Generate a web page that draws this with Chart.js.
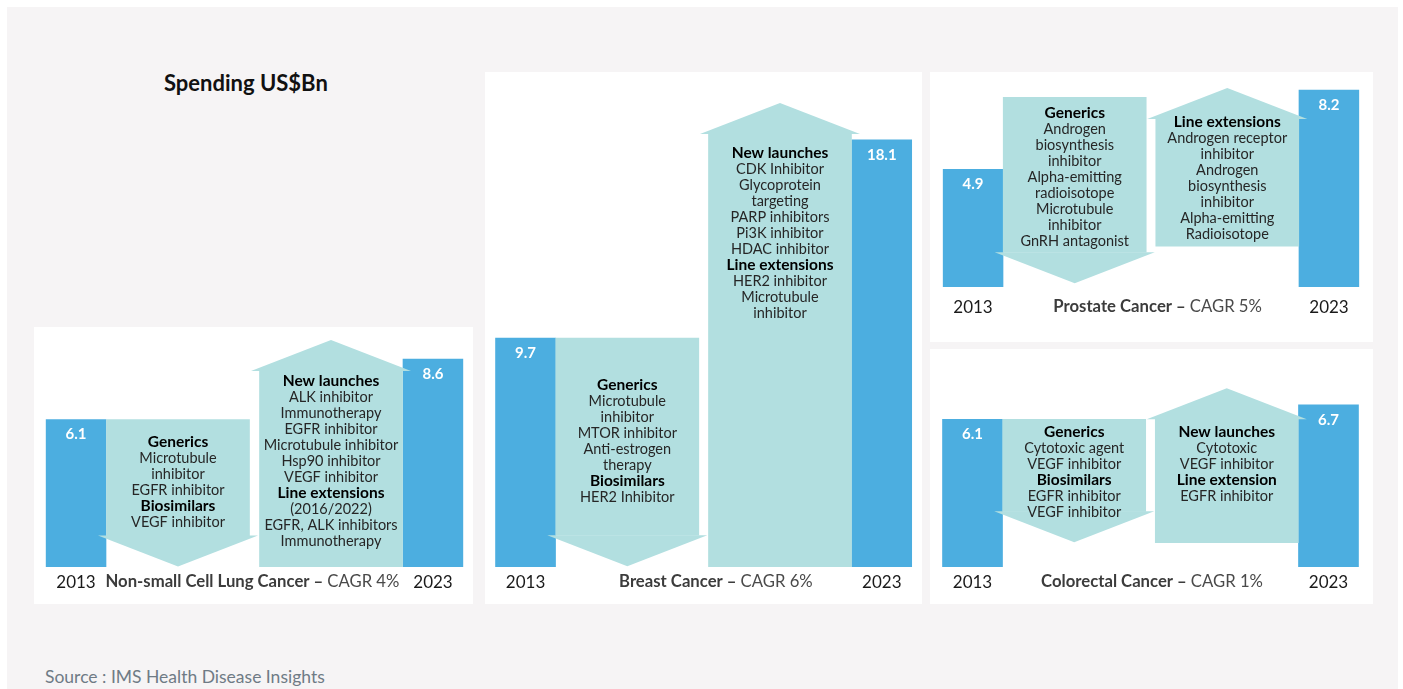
<!DOCTYPE html>
<html>
<head>
<meta charset="utf-8">
<script src="https://cdn.jsdelivr.net/npm/chart.js@4.4.1/dist/chart.umd.min.js"></script>
<style>
  html,body{margin:0;padding:0}
  body{width:1403px;height:689px;background:#ffffff;position:relative;overflow:hidden;font-family:Lato,"Open Sans",sans-serif}
  #bg{position:absolute;left:7px;top:7px;width:1391px;height:682px;background:#f6f4f5}
  .panel{position:absolute;background:#ffffff}
  .panel canvas{position:absolute;left:0;top:0}
  #title{position:absolute;left:164px;top:68px;font-weight:700;font-size:22px;line-height:30px;color:#111;white-space:nowrap}
  #source{position:absolute;left:45px;top:665px;font-size:17.5px;line-height:24px;color:#6f7b85;white-space:nowrap}
</style>
</head>
<body>
<div id="bg"></div>
<div id="title">Spending US$Bn</div>
<div class="panel" id="p0"><canvas id="c0"></canvas></div>
<div class="panel" id="p1"><canvas id="c1"></canvas></div>
<div class="panel" id="p2"><canvas id="c2"></canvas></div>
<div class="panel" id="p3"><canvas id="c3"></canvas></div>
<div id="source">Source : IMS Health Disease Insights</div>
<script>
// ---------------- DATA ----------------
const categories = ['Non-small Cell Lung Cancer', 'Breast Cancer', 'Prostate Cancer', 'Colorectal Cancer'];
const cagrLabels = ['CAGR 4%', 'CAGR 6%', 'CAGR 5%', 'CAGR 1%'];
const yearLabels = ['2013', '2023'];
const spend2013 = [6.1, 9.7, 4.9, 6.1];
const spend2023 = [8.6, 18.1, 8.2, 6.7];
// spending lost (generics / biosimilars) and gained (launches / extensions), arrow bodies in US$Bn
const lossRange = [[1.3, 6.1], [1.35, 9.7], [1.45, 7.9], [2.3, 6.1]];
const gainRange = [[0, 8.1], [0, 18.35], [1.7, 7.0], [1.0, 6.1]];
// '*' marks a bold heading line
const lossText = [
  ['*Generics', 'Microtubule', 'inhibitor', 'EGFR inhibitor', '*Biosimilars', 'VEGF inhibitor'],
  ['*Generics', 'Microtubule', 'inhibitor', 'MTOR inhibitor', 'Anti-estrogen', 'therapy', '*Biosimilars', 'HER2 Inhibitor'],
  ['*Generics', 'Androgen', 'biosynthesis', 'inhibitor', 'Alpha-emitting', 'radioisotope', 'Microtubule', 'inhibitor', 'GnRH antagonist'],
  ['*Generics', 'Cytotoxic agent', 'VEGF inhibitor', '*Biosimilars', 'EGFR inhibitor', 'VEGF inhibitor']
];
const gainText = [
  ['*New launches', 'ALK inhibitor', 'Immunotherapy', 'EGFR inhibitor', 'Microtubule inhibitor', 'Hsp90 inhibitor', 'VEGF inhibitor', '*Line extensions', '(2016/2022)', 'EGFR, ALK inhibitors', 'Immunotherapy'],
  ['*New launches', 'CDK Inhibitor', 'Glycoprotein', 'targeting', 'PARP inhibitors', 'Pi3K inhibitor', 'HDAC inhibitor', '*Line extensions', 'HER2 inhibitor', 'Microtubule', 'inhibitor'],
  ['*Line extensions', 'Androgen receptor', 'inhibitor', 'Androgen', 'biosynthesis', 'inhibitor', 'Alpha-emitting', 'Radioisotope'],
  ['*New launches', 'Cytotoxic', 'VEGF inhibitor', '*Line extension', 'EGFR inhibitor']
];

// ---------------- LAYOUT / STYLE ----------------
const BLUE = '#4caee0';
const TEAL = '#b2dfe0';
const FONT = 'Lato, "Open Sans", sans-serif';
const SLOT = {y2013: 0, loss: 2, gain: 5, y2023: 7};
const AXIS_H = 34;
const HEAD_LEN = 31, HEAD_OVER = 8.5, LINE_H = 16;
const layouts = [
  {panel: {l: 34, t: 327, w: 439, h: 277}, area: {l: 45.4, r: 463.6, t: 330, b: 567}, yMax: 9.8, gap: 15, titleX: 3.46, textTop: [23, 10]},
  {panel: {l: 485, t: 72, w: 437, h: 532}, area: {l: 495, r: 912.3, t: 95, b: 567}, yMax: 20, gap: 15, titleX: 3.74, textTop: [47, 19]},
  {panel: {l: 930, t: 72, w: 443, h: 270}, area: {l: 942.5, r: 1359.5, t: 83, b: 287}, yMax: 8.5, gap: 20, titleX: 3.63, textTop: [16, 3]},
  {panel: {l: 930, t: 349, w: 443, h: 255}, area: {l: 942, r: 1359, t: 383, b: 567}, yMax: 7.6, gap: 15, titleX: 3.53, textTop: [13, 13]}
];

const decorPlugin = {
  id: 'decor',
  afterDatasetsDraw(chart) {
    const o = chart.options.plugins.decor;
    const ctx = chart.ctx;
    ctx.save();
    // arrows: heads + text
    [0, 1].forEach(di => {
      const el = chart.getDatasetMeta(di).data[0];
      const p = el.getProps(['x', 'y', 'base', 'width'], true);
      const half = p.width / 2 + HEAD_OVER;
      ctx.fillStyle = TEAL;
      ctx.beginPath();
      if (di === 0) {
        ctx.moveTo(p.x - half, p.base); ctx.lineTo(p.x + half, p.base); ctx.lineTo(p.x, p.base + HEAD_LEN);
      } else {
        ctx.moveTo(p.x - half, p.y); ctx.lineTo(p.x + half, p.y); ctx.lineTo(p.x, p.y - HEAD_LEN);
      }
      ctx.closePath(); ctx.fill();
      const lines = di === 0 ? o.loss : o.gain;
      let ty = p.y + o.textTop[di];
      ctx.textAlign = 'center'; ctx.textBaseline = 'middle';
      lines.forEach(line => {
        const bold = line.startsWith('*');
        ctx.font = bold ? ('700 15.5px ' + FONT) : ('400 14.5px ' + FONT);
        ctx.fillStyle = bold ? '#000' : '#262626';
        ctx.fillText(bold ? line.slice(1) : line, p.x, ty);
        ty += LINE_H;
      });
    });
    // value labels in bars
    [2, 3].forEach((di, k) => {
      const el = chart.getDatasetMeta(di).data[0];
      const v = k === 0 ? o.v2013 : o.v2023;
      ctx.font = '700 15px ' + FONT;
      ctx.fillStyle = '#ffffff';
      ctx.textAlign = 'center'; ctx.textBaseline = 'middle';
      ctx.fillText(v.toFixed(1), el.x, el.y + 15);
    });
    // panel title
    const xs = chart.scales.x, ys = chart.scales.y;
    const cy = ys.getPixelForValue(0) + o.gap;
    const cx = xs.getPixelForValue(o.titleX);
    const t1 = o.name + ' \u2013 ', t2 = o.cagr;
    ctx.font = '700 16.7px ' + FONT; const w1 = ctx.measureText(t1).width;
    ctx.font = '400 16.7px ' + FONT; const w2 = ctx.measureText(t2).width;
    let sx = cx - (w1 + w2) / 2;
    ctx.textAlign = 'left'; ctx.textBaseline = 'middle';
    ctx.font = '700 16.7px ' + FONT; ctx.fillStyle = '#3c3c3c'; ctx.fillText(t1, sx, cy);
    ctx.font = '400 16.7px ' + FONT; ctx.fillStyle = '#4a4a4a'; ctx.fillText(t2, sx + w1, cy);
    ctx.restore();
  }
};

layouts.forEach((L, i) => {
  const div = document.getElementById('p' + i);
  div.style.left = L.panel.l + 'px'; div.style.top = L.panel.t + 'px';
  div.style.width = L.panel.w + 'px'; div.style.height = L.panel.h + 'px';
  const cv = document.getElementById('c' + i);
  cv.width = L.panel.w; cv.height = L.panel.h;
  const pad = {
    left: L.area.l - L.panel.l,
    right: (L.panel.l + L.panel.w) - L.area.r,
    top: L.area.t - L.panel.t,
    bottom: (L.panel.t + L.panel.h) - L.area.b - AXIS_H
  };
  new Chart(cv.getContext('2d'), {
    type: 'bar',
    data: {
      datasets: [
        {label: 'Loss', data: [{x: SLOT.loss, y: lossRange[i]}], backgroundColor: TEAL, barThickness: 143},
        {label: 'Gain', data: [{x: SLOT.gain, y: gainRange[i]}], backgroundColor: TEAL, barThickness: 143},
        {label: yearLabels[0], data: [{x: SLOT.y2013, y: spend2013[i]}], backgroundColor: BLUE, barThickness: 60},
        {label: yearLabels[1], data: [{x: SLOT.y2023, y: spend2023[i]}], backgroundColor: BLUE, barThickness: 60}
      ]
    },
    options: {
      responsive: false, animation: false, devicePixelRatio: 1,
      layout: {padding: pad},
      plugins: {
        legend: {display: false}, tooltip: {enabled: false},
        decor: {loss: lossText[i], gain: gainText[i], v2013: spend2013[i], v2023: spend2023[i],
                name: categories[i], cagr: cagrLabels[i], gap: L.gap, titleX: L.titleX, textTop: L.textTop}
      },
      scales: {
        x: {
          type: 'linear', min: -0.6, max: 7.6, stacked: true, offset: false,
          grid: {display: false, drawTicks: false}, border: {display: false},
          afterBuildTicks: s => { s.ticks = [{value: SLOT.y2013}, {value: SLOT.y2023}]; },
          afterFit: s => { s.height = AXIS_H; },
          ticks: {
            autoSkip: false, maxRotation: 0, padding: L.gap - 10,
            color: '#1a1a1a', font: {family: FONT, size: 17},
            callback: v => v === SLOT.y2013 ? yearLabels[0] : yearLabels[1]
          }
        },
        y: {display: false, min: 0, max: L.yMax, stacked: false}
      }
    },
    plugins: [decorPlugin]
  });
});
</script>
</body>
</html>
